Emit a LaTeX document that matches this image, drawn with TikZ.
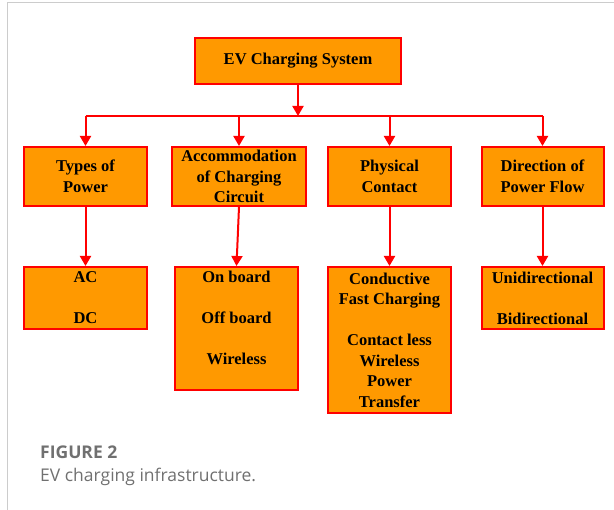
\documentclass[tikz,border=0pt]{standalone}
\usepackage{fontspec}
\setmainfont{Liberation Serif}
\newfontfamily\capfont{Open Sans}
\usetikzlibrary{arrows.meta}
\definecolor{boxfill}{RGB}{255,153,0}
\definecolor{boxline}{RGB}{255,0,0}
\definecolor{framegray}{RGB}{204,204,204}
\definecolor{capgray}{RGB}{112,112,112}
\begin{document}
\begin{tikzpicture}[x=1pt,y=-1pt,
  box/.style={draw=boxline, fill=boxfill, line width=2pt, inner sep=0pt,
    align=center, font=\bfseries\fontsize{16.5}{20.5}\selectfont},
  link/.style={draw=boxline, line width=2pt},
  arr/.style={link, -{Triangle[length=10pt,width=11pt]}},
  captext/.style={anchor=base west, text=capgray, inner sep=0pt}]
\useasboundingbox (0,0) rectangle (614,510);
% card frame
\draw[framegray, line width=1pt] (7,510) -- (7,3) -- (614,3);

% root
\node[box, minimum width=206, minimum height=46] (root) at (298,61) {EV Charging System};

% categories
\node[box, minimum width=123, minimum height=59] (t1) at (85.5,176.5) {Types of\\Power};
\node[box, minimum width=134, minimum height=59] (t2) at (239,176.5) {Accommodation\\of Charging\\Circuit};
\node[box, minimum width=123, minimum height=59] (t3) at (389.5,176.5) {Physical\\Contact};
\node[box, minimum width=122, minimum height=59] (t4) at (542.5,176.5) {Direction of\\Power Flow};

% options
\node[box, minimum width=123, minimum height=62] (l1) at (85.5,298) {AC\\[20.5pt]DC};
\node[box, minimum width=123, minimum height=123] (l2) at (236.5,328.5) {On board\\[20.5pt]Off board\\[20.5pt]Wireless\\~};
\node[box, minimum width=123, minimum height=146] (l3) at (389.5,340) {Conductive\\Fast Charging\\[20.5pt]Contact less\\Wireless\\Power\\Transfer};
\node[box, minimum width=122, minimum height=62] (l4) at (542.5,298) {Unidirectional\\[20.5pt]Bidirectional};

% bus
\coordinate (hub) at (298,116);
\coordinate (busL) at (85.5,116);
\coordinate (busR) at (542.5,116);
\draw[arr] (root.south) -- (hub);
\draw[link] (busL) -- (busR);
\foreach \n in {t1,t2,t3,t4}
  \draw[arr] (\n.north |- hub) -- (\n.north);
\draw[arr] (t1.south) -- (l1.north);
\draw[arr] (t2.south) -- (l2.north);
\draw[arr] (t3.south) -- (l3.north);
\draw[arr] (t4.south) -- (l4.north);

% caption
\node[captext, font=\capfont\bfseries\fontsize{17.5}{21}\selectfont] (fig) at (40,458.5) {FIGURE 2};
\node[captext, font=\capfont\fontsize{17.5}{21}\selectfont] (cap) at (40,481.5) {EV charging infrastructure.};
\end{tikzpicture}
\end{document}
